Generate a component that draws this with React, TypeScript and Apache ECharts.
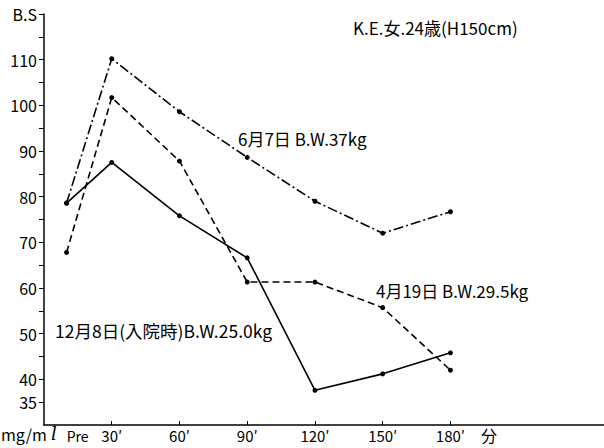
import React, { useEffect, useRef } from "react";
import * as echarts from "echarts";

const xMinutes = [10, 30, 60, 90, 120, 150, 180];
const xTickLabels = ["Pre", "30′", "60′", "90′", "120′", "150′", "180′"];
const xTickValues = [30, 60, 90, 120, 150, 180];

const yLabelValues = [35, 40, 50, 60, 70, 80, 90, 100, 110, 120];
const yTickValues = [35, 40, 45, 50, 55, 60, 65, 70, 75, 80, 85, 90, 95, 100, 105, 110, 115, 120];

const seriesNames = ["12月8日(入院時)B.W.25.0kg", "4月19日 B.W.29.5kg", "6月7日 B.W.37kg"];
const dec8Values = [78.6, 87.5, 75.8, 66.6, 37.6, 41.2, 45.8];
const apr19Values = [67.8, 101.7, 87.8, 61.3, 61.3, 55.7, 42.0];
const jun7Values = [78.6, 110.2, 98.6, 88.6, 79.0, 72.0, 76.7];

const FONT = "'Noto Sans CJK JP', 'DejaVu Sans', sans-serif";

export default function App() {
  const ref = useRef<HTMLDivElement>(null);
  useEffect(() => {
    if (!ref.current) return;
    const chart = echarts.init(ref.current, null, { renderer: "svg" });
    const zip = (vals: number[]) => xMinutes.map((x, i) => [x, vals[i]]);
    const labelMap: Record<number, string> = {};
    xMinutes.forEach((x, i) => (labelMap[x] = xTickLabels[i]));
    const lineBase = { type: "line", symbol: "circle", symbolSize: 5, itemStyle: { color: "#000" } };
    chart.setOption({
      animation: false,
      backgroundColor: "#fff",
      textStyle: { fontFamily: FONT, color: "#000" },
      grid: { left: 44, right: 0, top: 14, bottom: 23 },
      xAxis: {
        type: "value",
        min: 0,
        max: 248,
        interval: 30,
        splitLine: { show: false },
        axisLine: { lineStyle: { color: "#000", width: 1.5 } },
        axisTick: { inside: true, length: 4, customValues: xTickValues, lineStyle: { color: "#000" } },
        axisLabel: {
          customValues: xMinutes,
          color: "#000",
          fontSize: 15,
          fontFamily: FONT,
          margin: 3,
          formatter: (v: number) => (v === 10 ? "{pre|" + labelMap[v] + "}" : labelMap[v] || ""),
          rich: { pre: { fontSize: 14, fontFamily: FONT, padding: [1, 0, 0, 22], color: "#000" } },
        },
      },
      yAxis: {
        type: "value",
        min: 30,
        max: 120,
        interval: 5,
        splitLine: { show: false },
        axisLine: { lineStyle: { color: "#000", width: 1.5 } },
        axisTick: { length: 5, customValues: yTickValues, lineStyle: { color: "#000" } },
        axisLabel: {
          customValues: yLabelValues,
          color: "#000",
          fontSize: 16,
          fontFamily: FONT,
          margin: 7,
          formatter: (v: number) => (v === 120 ? "B.S" : String(v)),
        },
      },
      series: [
        { ...lineBase, name: seriesNames[0], data: zip(dec8Values), lineStyle: { color: "#000", width: 1.6, type: "solid" } },
        { ...lineBase, name: seriesNames[1], data: zip(apr19Values), lineStyle: { color: "#000", width: 1.6, type: [7, 4] } },
        { ...lineBase, name: seriesNames[2], data: zip(jun7Values), lineStyle: { color: "#000", width: 1.6, type: [10, 3, 2, 3] } },
      ],
      graphic: [
        { type: "text", left: 353, top: 19, style: { text: "K.E.女.24歳(H150cm)", font: `17px ${FONT}`, fill: "#000" } },
        { type: "text", left: 238, top: 130, style: { text: seriesNames[2], font: `17px ${FONT}`, fill: "#000" } },
        { type: "text", left: 376, top: 282, style: { text: seriesNames[1], font: `17px ${FONT}`, fill: "#000" } },
        { type: "text", left: 55, top: 322, style: { text: seriesNames[0], font: `17.5px ${FONT}`, fill: "#000" } },
        { type: "text", left: 1, top: 426, style: { text: "mg/m", font: `16px ${FONT}`, fill: "#000" } },
        { type: "text", left: 51, top: 424, style: { text: "l", font: `italic 18px 'DejaVu Serif', serif`, fill: "#000" } },
        { type: "text", left: 481, top: 427, style: { text: "分", font: `16px ${FONT}`, fill: "#000" } },
      ],
    });
    return () => chart.dispose();
  }, []);
  return <div ref={ref} style={{ width: 604, height: 448, position: "absolute", left: 0, top: 0 }} />;
}
